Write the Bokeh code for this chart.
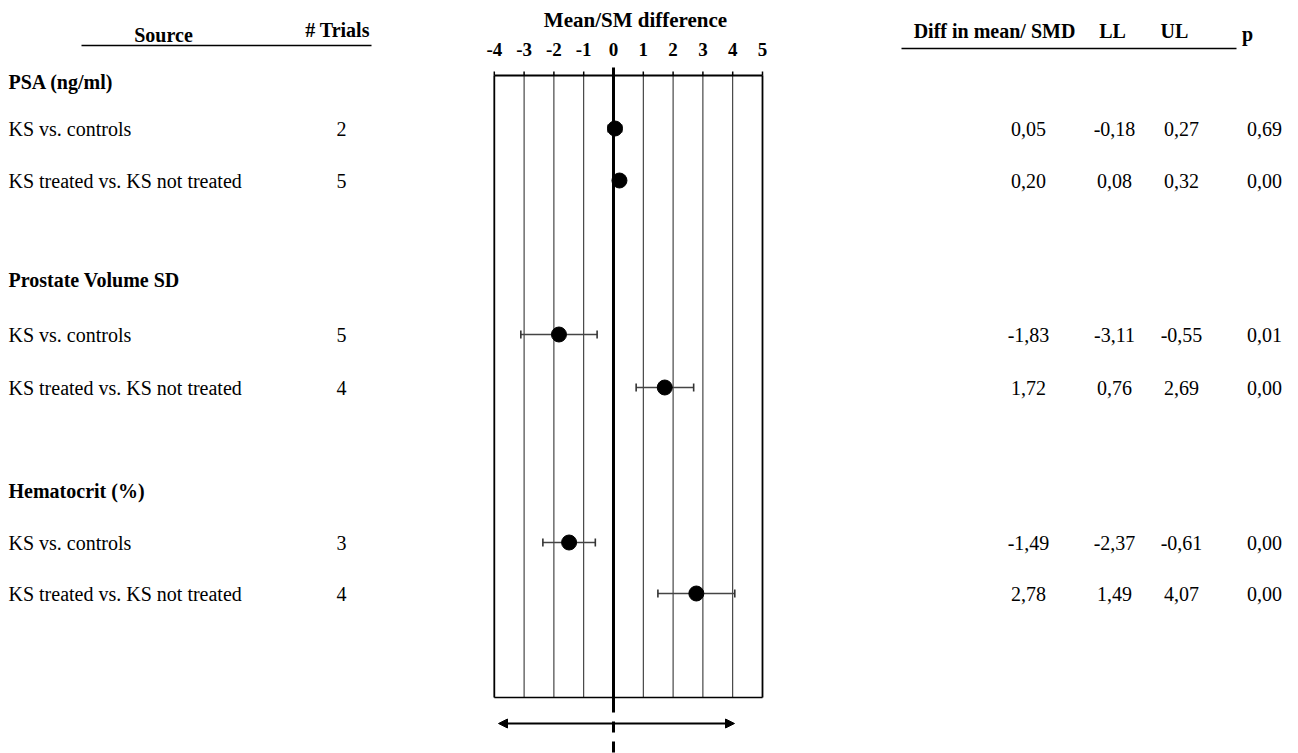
from bokeh.plotting import figure
from bokeh.models import Range1d, ColumnDataSource, Arrow, NormalHead
from bokeh.core.properties import value
from bokeh.embed import file_html
from bokeh.resources import INLINE

# ---------------- data ----------------
groups = ["PSA (ng/ml)", "Prostate Volume SD", "Hematocrit (%)"]
comparisons = ["KS  vs. controls", "KS treated vs. KS not treated",
               "KS  vs. controls", "KS treated vs. KS not treated",
               "KS  vs. controls", "KS treated vs. KS not treated"]
trials = [2, 5, 5, 4, 3, 4]
diff = [0.05, 0.20, -1.83, 1.72, -1.49, 2.78]
lower = [-0.18, 0.08, -3.11, 0.76, -2.37, 1.49]
upper = [0.27, 0.32, -0.55, 2.69, -0.61, 4.07]
pval = [0.69, 0.00, 0.01, 0.00, 0.00, 0.00]
ticks = [-4, -3, -2, -1, 0, 1, 2, 3, 4, 5]
col_headers = ["Diff in mean/ SMD", "LL", "UL", "p"]
left_headers = ["Source", "# Trials"]
axis_title = "Mean/SM difference"

# ---------------- layout (page pixels) ----------------
W, H = 1298, 753
ZERO_PX = 613.0
UNIT_PX = 29.8


def X(px):
    return (px - ZERO_PX) / UNIT_PX


header_y = [81, 279, 490]
item_y = [128, 180, 334, 387, 542, 593]
BOX_TOP, BOX_BOT = 75, 697
FONT = value("Liberation Serif")


def fmt(v):
    return f"{v:.2f}".replace(".", ",")


p = figure(width=W, height=H, output_backend="svg", toolbar_location=None,
           x_range=Range1d(X(0), X(W)), y_range=Range1d(H, 0),
           min_border=0, x_axis_type=None, y_axis_type=None)
p.outline_line_color = None
p.grid.visible = False
p.background_fill_color = "white"
p.border_fill_color = "white"

# ---- forest box: vertical grid lines from tick list ----
inner = ticks[1:-1]
p.segment(x0=inner, y0=[BOX_TOP] * len(inner), x1=inner, y1=[BOX_BOT] * len(inner),
          line_color="#222222", line_width=1)
edges = [ticks[0], ticks[-1]]
p.segment(x0=edges, y0=[BOX_TOP] * 2, x1=edges, y1=[BOX_BOT] * 2,
          line_color="black", line_width=1.8)
# top axis line + nubs, bottom line
p.segment(x0=[ticks[0]], y0=[BOX_TOP], x1=[ticks[-1]], y1=[BOX_TOP],
          line_color="black", line_width=2)
p.segment(x0=ticks, y0=[BOX_TOP - 4] * len(ticks), x1=ticks, y1=[BOX_TOP] * len(ticks),
          line_color="black", line_width=1.5)
p.segment(x0=[ticks[0]], y0=[BOX_BOT], x1=[ticks[-1]], y1=[BOX_BOT],
          line_color="black", line_width=1.5)
# zero line
p.segment(x0=[0], y0=[BOX_TOP - 8], x1=[0], y1=[BOX_BOT + 15],
          line_color="black", line_width=3)
# dashed continuation
p.segment(x0=[0], y0=[721], x1=[0], y1=[H + 2],
          line_color="black", line_width=3, line_dash="11 9")
# bottom double arrow
p.add_layout(Arrow(start=NormalHead(size=9, fill_color="black", line_color="black"),
                   end=NormalHead(size=9, fill_color="black", line_color="black"),
                   x_start=X(498), y_start=723, x_end=X(734), y_end=723,
                   line_color="black", line_width=2))

# tick labels
p.text(x=ticks, y=[49] * len(ticks), text=[str(t) for t in ticks],
       text_font=FONT, text_font_style="bold", text_font_size="19px",
       text_align="center", text_baseline="middle", text_color="black")
p.text(x=[X(635)], y=[19], text=[axis_title], text_font=FONT, text_font_style="bold",
       text_font_size="21px", text_align="center", text_baseline="middle", text_color="black")

# ---- error bars and points ----
src = ColumnDataSource(dict(y=item_y, d=diff, lo=lower, hi=upper,
                            ytop=[y - 4 for y in item_y], ybot=[y + 4 for y in item_y]))
p.segment(x0="lo", y0="y", x1="hi", y1="y", source=src, line_color="#444444", line_width=1.6)
p.segment(x0="lo", y0="ytop", x1="lo", y1="ybot", source=src, line_color="#333333", line_width=1.6)
p.segment(x0="hi", y0="ytop", x1="hi", y1="ybot", source=src, line_color="#333333", line_width=1.6)
p.scatter(x="d", y="y", source=src, size=15, marker="circle", fill_color="black", line_color="black")

# ---- left text columns ----
p.text(x=[X(8)] * 3, y=header_y, text=groups, text_font=FONT, text_font_style="bold",
       text_font_size="20px", text_align="left", text_baseline="middle", text_color="black")
p.text(x=[X(8)] * 6, y=item_y, text=comparisons, text_font=FONT,
       text_font_size="20px", text_align="left", text_baseline="middle", text_color="black")
p.text(x=[X(341)] * 6, y=item_y, text=[str(t) for t in trials], text_font=FONT,
       text_font_size="20px", text_align="center", text_baseline="middle", text_color="black")
p.text(x=[X(163), X(337)], y=[34, 29], text=left_headers, text_font=FONT, text_font_style="bold",
       text_font_size="20px", text_align="center", text_baseline="middle", text_color="black")
p.segment(x0=[X(81)], y0=[45], x1=[X(371)], y1=[45], line_color="black", line_width=1.3)

# ---- right text columns ----
p.text(x=[X(994), X(1112), X(1174), X(1247)], y=[30, 30, 30, 33], text=col_headers,
       text_font=FONT, text_font_style="bold", text_font_size="20px",
       text_align="center", text_baseline="middle", text_color="black")
p.segment(x0=[X(901)], y0=[48], x1=[X(1236)], y1=[48], line_color="black", line_width=1.3)
for cx, vals in zip([1028, 1114, 1181, 1264], [diff, lower, upper, pval]):
    p.text(x=[X(cx)] * 6, y=item_y, text=[fmt(v) for v in vals], text_font=FONT,
           text_font_size="20px", text_align="center", text_baseline="middle", text_color="black")

open("out.html", "w").write(file_html(p, INLINE))
